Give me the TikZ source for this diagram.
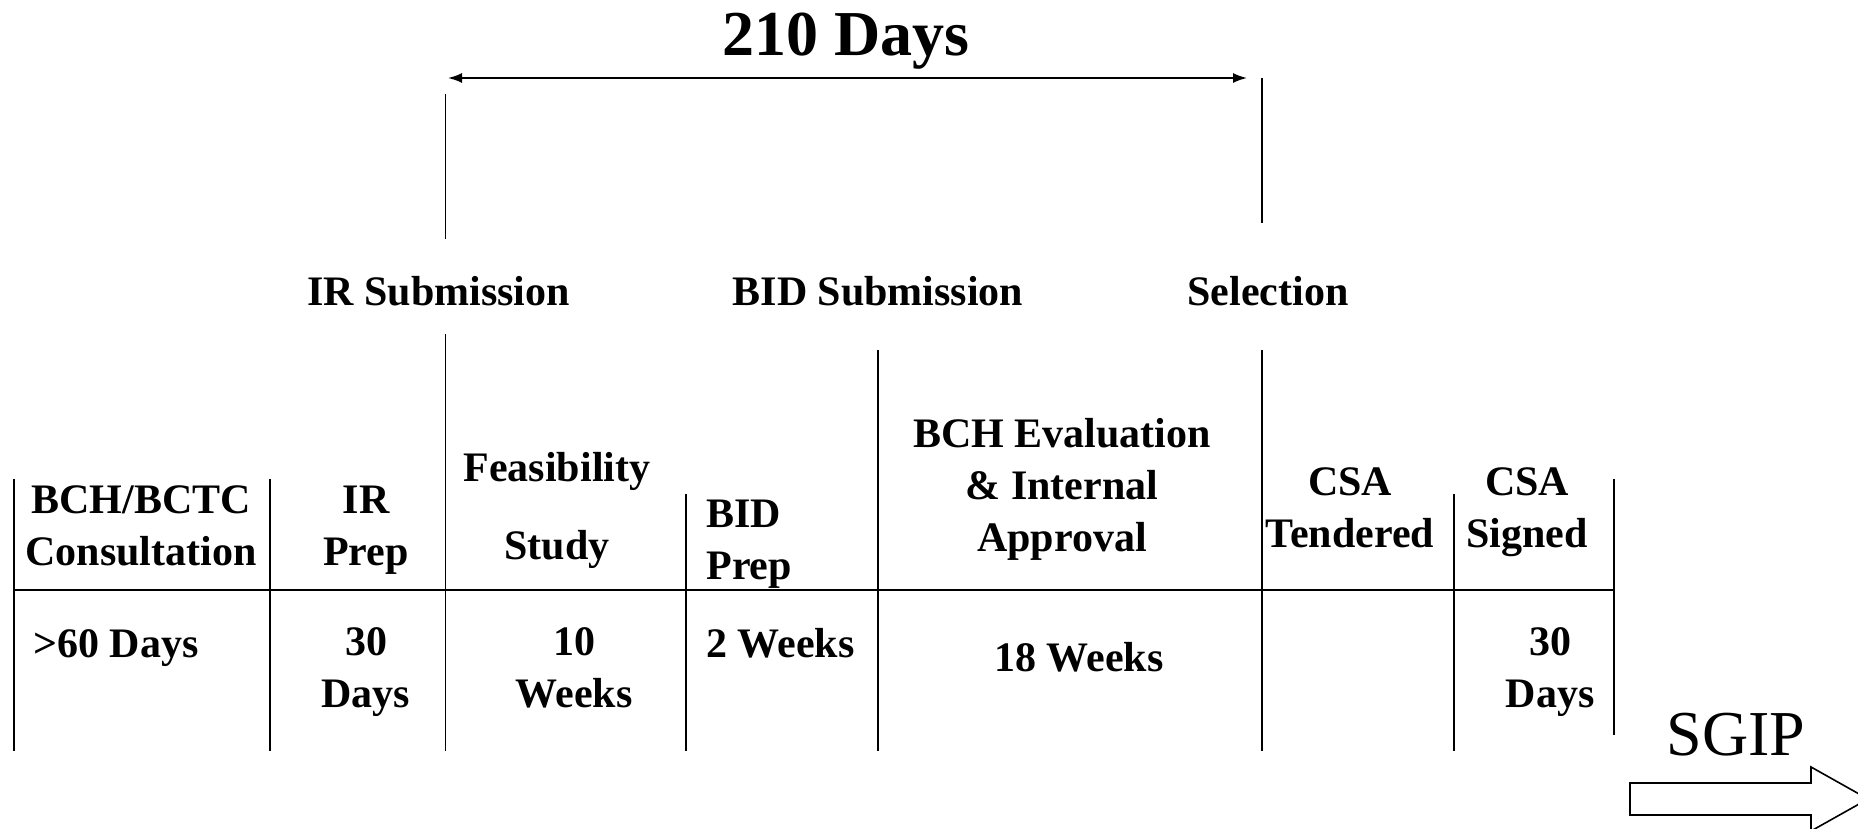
\documentclass[tikz,border=0pt]{standalone}
\usepackage{fontspec}
\setmainfont{Liberation Serif}
\usetikzlibrary{arrows.meta}

\begin{document}
\begin{tikzpicture}[x=0.5pt, y=-0.5pt,
    lbl/.style={font=\fontsize{21}{26}\selectfont\bfseries, inner sep=0pt, align=center, anchor=base},
    lbll/.style={lbl, align=left, anchor=base west},
    big/.style={font=\fontsize{32}{38}\selectfont, inner sep=0pt, anchor=base},
    rule/.style={line width=0.9pt}]
    \useasboundingbox (0,0) rectangle (1858,829);
    \clip (0,0) rectangle (1858,829);

    % span of the approval period
    \coordinate (spanL) at (448,78);
    \coordinate (spanR) at (1247,78);
    \draw[rule, {Latex[length=7pt,width=5pt]}-{Latex[length=7pt,width=5pt]}] (spanL) -- (spanR);
    \node[big, font=\fontsize{32}{38}\selectfont\bfseries] (days) at (846,55.5) {210 Days};
    \draw[rule] (445.5,94) -- (445.5,239);
    \draw[rule] (1262,78) -- (1262,223);

    % milestones
    \node[lbl] (irsub) at (438.5,305) {IR Submission};
    \node[lbl] (bidsub) at (878,305) {BID Submission};
    \node[lbl] (select) at (1268,305) {Selection};

    % column rules
    \foreach \x/\top/\bot in {14/479/751, 270/479/751, 445.5/334/751, 686/494/751,
                              878/350/751, 1262/350/751, 1454/494/751, 1614/479/735}
        \draw[rule] (\x,\top) -- (\x,\bot);
    \draw[line width=1.3pt] (14,590) -- (1614,590);

    % phases (placed at the baseline of the last line)
    \node[lbl] (consult) at (141,565) {BCH/BCTC\\Consultation};
    \node[lbl] (irprep) at (366,565) {IR\\Prep};
    \node[lbl] (feas) at (557,559) {Feasibility\\[13pt]Study};
    \node[lbll] (bidprep) at (706,579) {BID\\Prep};
    \node[lbl] (eval) at (1062,551) {BCH Evaluation\\\& Internal\\Approval};
    \node[lbl] (tender) at (1350,547) {CSA\\Tendered};
    \node[lbl] (signed) at (1527,547) {CSA\\Signed};

    % durations
    \node[lbll] (dconsult) at (33,657) {>60 Days};
    \node[lbl] (dirprep) at (366,707) {30\\Days};
    \node[lbl] (dfeas) at (574,707) {10\\Weeks};
    \node[lbll] (dbidprep) at (706,657) {2 Weeks};
    \node[lbl] (deval) at (1079,671) {18 Weeks};
    \node[lbl] (dsigned) at (1550,707) {30\\Days};

    % on to SGIP
    \node[big] (sgip) at (1736,755) {SGIP};
    \draw[line width=0.8pt] (1630,783) -- (1811,783) -- (1811,767) -- (1868,799)
        -- (1811,831) -- (1811,815) -- (1630,815) -- cycle;
\end{tikzpicture}
\end{document}
